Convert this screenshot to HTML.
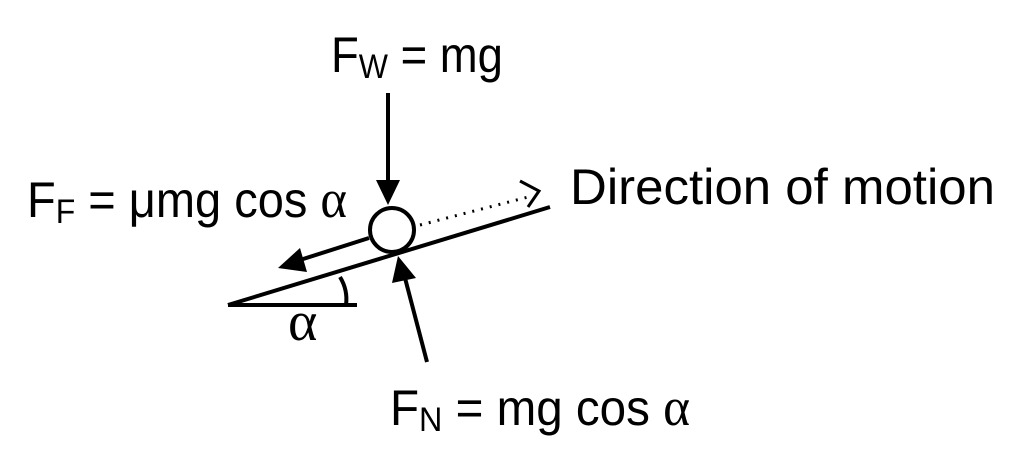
<!DOCTYPE html>
<html><head><style>html,body{margin:0;padding:0;background:#fff}</style></head>
<body>
<svg width="1024" height="462" viewBox="0 0 1024 462" xmlns="http://www.w3.org/2000/svg" font-family="'Liberation Sans', sans-serif" fill="#000">
<rect width="1024" height="462" fill="#fff"/>
<g stroke="#000" stroke-width="4" fill="none">
<line x1="228" y1="305" x2="550" y2="207"/>
<line x1="228" y1="305" x2="357" y2="305"/>
<path d="M340 277 Q348 290 346 305"/>
<circle cx="392" cy="230" r="22" stroke-width="4"/>
<line x1="388" y1="93" x2="388" y2="182"/>
<line x1="369" y1="238" x2="300" y2="260"/>
<line x1="427" y1="362" x2="405" y2="278"/>
<line x1="420" y1="225" x2="528" y2="197" stroke-dasharray="2 7" stroke-width="3"/>
<polyline points="520,181 539,191 528,207" stroke-width="3"/>
</g>
<polygon points="376,180 400,180 388,205"/>
<polygon points="278,268 300,248 307,272"/>
<polygon points="398,256 392,283 416,278"/>
<text x="331" y="72" font-size="50" textLength="172" lengthAdjust="spacingAndGlyphs">F<tspan font-size="34" dy="6">W</tspan><tspan dy="-6"> = mg</tspan></text>
<text x="27" y="217" font-size="50" textLength="320" lengthAdjust="spacingAndGlyphs">F<tspan font-size="34" dy="6">F</tspan><tspan dy="-6"> = μmg cos </tspan><tspan font-family="'Liberation Serif', serif" font-size="54">α</tspan></text>
<text x="570" y="204" font-size="50" textLength="425" lengthAdjust="spacingAndGlyphs">Direction of motion</text>
<text x="288" y="340" font-size="56" font-family="'Liberation Serif', serif">α</text>
<text x="390" y="425" font-size="50" textLength="300" lengthAdjust="spacingAndGlyphs">F<tspan font-size="34" dy="6">N</tspan><tspan dy="-6"> = mg cos </tspan><tspan font-family="'Liberation Serif', serif" font-size="54">α</tspan></text>
</svg>
</body></html>
